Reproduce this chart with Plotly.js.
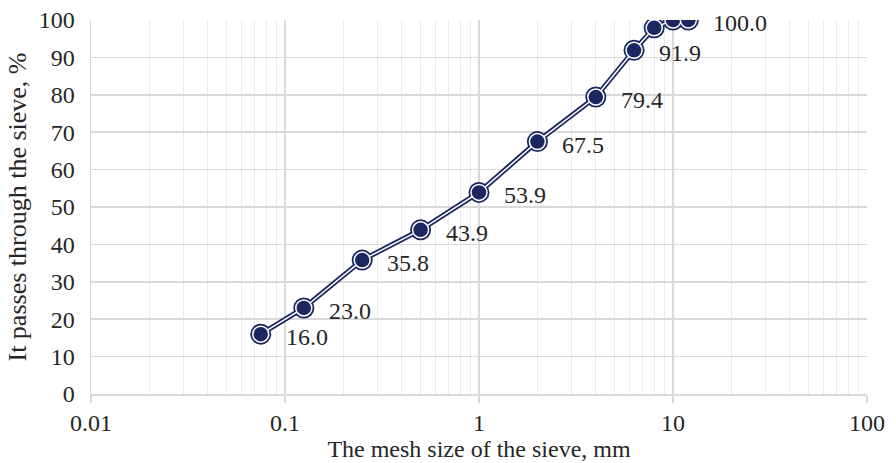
<!DOCTYPE html>
<html>
<head>
<meta charset="utf-8">
<script src="https://cdn.plot.ly/plotly-3.0.1.min.js"></script>
<style>html,body{margin:0;padding:0;background:#fff;}#chart{width:896px;height:463px;}</style>
</head>
<body>
<div id="chart"></div>
<script>
const meshSize = [0.075, 0.125, 0.25, 0.5, 1, 2, 4, 6.3, 8, 10, 12];
const passing = [16.0, 23.0, 35.8, 43.9, 53.9, 67.5, 79.4, 91.9, 97.9, 100.0, 100.0];
const pointLabels = ['16.0', '23.0', '35.8', '43.9', '53.9', '67.5', '79.4', '91.9', '', '', '100.0'];
const xTickVals = [0.01, 0.1, 1, 10, 100];
const xTickText = ['0.01', '0.1', '1', '10', '100'];

const navy = '#1c2760';
const fontFam = '"Liberation Serif", "DejaVu Serif", serif';
const textCol = '#262626';

const traces = [
  {
    x: meshSize, y: passing, type: 'scatter', mode: 'lines+markers',
    line: {color: navy, width: 5},
    marker: {color: navy, size: 21},
    hoverinfo: 'skip', showlegend: false
  },
  {
    x: meshSize, y: passing, type: 'scatter', mode: 'lines+markers',
    line: {color: '#ffffff', width: 1.5},
    marker: {color: navy, size: 16, line: {color: '#ffffff', width: 1.5}},
    hoverinfo: 'skip', showlegend: false
  }
];

const annotations = meshSize.map((x, i) => ({
  x: Math.log10(x), y: passing[i], xref: 'x', yref: 'y',
  text: pointLabels[i], showarrow: false,
  xanchor: 'left', yanchor: 'middle', xshift: 23, yshift: -3,
  font: {family: fontFam, size: 24, color: textCol}
})).filter(a => a.text !== '');

const layout = {
  width: 896, height: 463,
  margin: {l: 91, r: 29, t: 20, b: 69},
  paper_bgcolor: '#ffffff', plot_bgcolor: '#ffffff',
  font: {family: fontFam, size: 24, color: textCol},
  xaxis: {
    type: 'log', range: [-2, 2],
    tickvals: xTickVals, ticktext: xTickText,
    showgrid: true, gridcolor: '#d9d9d9', gridwidth: 1.5,
    minor: {dtick: 'D1', showgrid: true, gridcolor: '#ebebeb', gridwidth: 1, ticks: ''},
    showline: true, linecolor: '#d9d9d9', linewidth: 1.5,
    ticks: 'outside', ticklen: 7, tickcolor: '#d9d9d9', tickwidth: 1.5,
    zeroline: false,
    tickfont: {family: fontFam, size: 24, color: textCol},
    title: {text: 'The mesh size of the sieve, mm', font: {family: fontFam, size: 24, color: textCol}, standoff: 2}
  },
  yaxis: {
    range: [0, 100], dtick: 10,
    showgrid: true, gridcolor: '#d9d9d9', gridwidth: 1.5,
    showline: true, linecolor: '#d9d9d9', linewidth: 1.5,
    ticks: '', zeroline: false, ticklabelstandoff: 10,
    tickfont: {family: fontFam, size: 24, color: textCol},
    title: {text: 'It passes through the sieve, %', font: {family: fontFam, size: 26, color: textCol}, standoff: 4}
  },
  annotations: annotations
};

Plotly.newPlot('chart', traces, layout, {displayModeBar: false, staticPlot: true});
</script>
</body>
</html>
